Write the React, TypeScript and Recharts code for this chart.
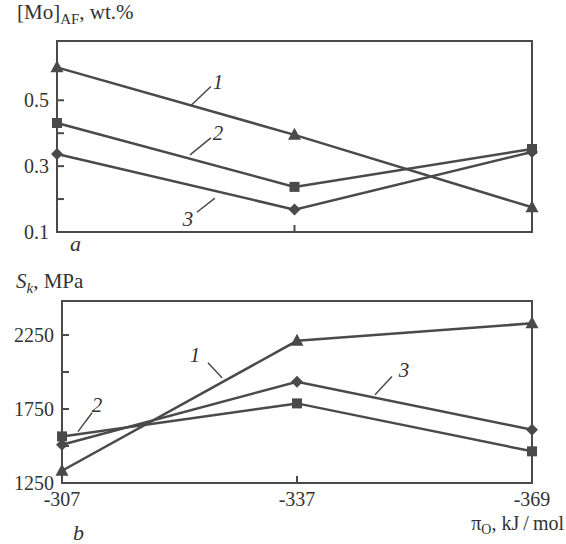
import { Line, LineChart, ReferenceArea, ReferenceDot, ReferenceLine, XAxis, YAxis } from 'recharts'

// oxygen potential, kJ/mol
const pressures = ['-307', '-337', '-369']

// (a) Mo in acicular ferrite, wt.%
const moCurve1 = [0.6, 0.395, 0.175]
const moCurve2 = [0.431, 0.237, 0.352]
const moCurve3 = [0.337, 0.168, 0.343]
const moTicks = [0.1, 0.2, 0.3, 0.4, 0.5]
const moLabels = [0.1, 0.3, 0.5]

// (b) S_k, MPa
const skCurve1 = [1333, 2211, 2329]
const skCurve2 = [1565, 1788, 1464]
const skCurve3 = [1509, 1934, 1610]
const skTicks = [1250, 1500, 1750, 2000, 2250]
const skLabels = [1250, 1750, 2250]

// curve numbers with leader lines, in data units
const moNotes = [
  { text: '1', at: [0.678, 0.557], from: [0.648, 0.542], to: [0.564, 0.484] },
  { text: '2', at: [0.678, 0.401], from: [0.648, 0.386], to: [0.56, 0.334] },
  { text: '3', at: [0.552, 0.142], from: [0.589, 0.16], to: [0.665, 0.203] },
]
const skNotes = [
  { text: '1', at: [0.566, 2119], from: [0.621, 2063], to: [0.681, 1962] },
  { text: '3', at: [1.455, 2016], from: [1.404, 1969], to: [1.332, 1847] },
  { text: '2', at: [0.149, 1779], from: [0.128, 1725], to: [0.068, 1597] },
]

const INK = '#4a4a4a'
const TEXT = '#333'
const FONT = '"Liberation Serif", "DejaVu Serif", serif'

const moData = pressures.map((p, i) => ({ x: i, s1: moCurve1[i], s2: moCurve2[i], s3: moCurve3[i] }))
const skData = pressures.map((p, i) => ({ x: i, s1: skCurve1[i], s2: skCurve2[i], s3: skCurve3[i] }))

const Triangle = (props: any) => {
  const { cx, cy } = props
  if (cx == null || cy == null) return null
  return <path d={`M${cx},${cy - 7} L${cx + 6.5},${cy + 5} L${cx - 6.5},${cy + 5} Z`} fill={INK} />
}
const Square = (props: any) => {
  const { cx, cy } = props
  if (cx == null || cy == null) return null
  return <rect x={cx - 5} y={cy - 5} width={10} height={10} fill={INK} />
}
const Diamond = (props: any) => {
  const { cx, cy } = props
  if (cx == null || cy == null) return null
  return <path d={`M${cx},${cy - 6} L${cx + 6},${cy} L${cx},${cy + 6} L${cx - 6},${cy} Z`} fill={INK} />
}

const YTick = (props: any) => {
  const { x, y, payload, labels } = props
  const axisX = x + 8
  return (
    <g>
      <line x1={axisX} x2={axisX + 7} y1={y} y2={y} stroke={INK} strokeWidth={2} />
      {labels.includes(payload.value) && (
        <text x={x} y={y} dy="0.35em" textAnchor="end" fontFamily={FONT} fontSize={20} fill={TEXT}>
          {String(payload.value)}
        </text>
      )}
    </g>
  )
}

const XTick = (props: any) => {
  const { x, payload, showLabels, axisY } = props
  return (
    <g>
      <line x1={x} x2={x} y1={axisY} y2={axisY - 7} stroke={INK} strokeWidth={2} />
      {showLabels && (
        <text x={x} y={axisY + 23} textAnchor="middle" fontFamily={FONT} fontSize={20} fill={TEXT}>
          {pressures[payload.value]}
        </text>
      )}
    </g>
  )
}

const noteShape = (text: string) => (p: any) => (
  <text x={p.cx} y={p.cy} dy="0.35em" textAnchor="middle" fontFamily={FONT} fontStyle="italic" fontSize={21} fill={TEXT}>
    {text}
  </text>
)

const Panel = ({ data, ticks, labels, domain, notes, height, axisWidth, showLabels }: any) => {
  const axisY = height - 30
  return (
    <LineChart width={566} height={height} data={data} margin={{ top: 41, right: 34, left: 0, bottom: 0 }}>
      <XAxis
        dataKey="x"
        type="number"
        domain={[0, 2]}
        ticks={[0, 1, 2]}
        height={30}
        tickSize={0}
        tickMargin={4}
        tickLine={{ stroke: 'none' }}
        axisLine={{ stroke: INK, strokeWidth: 2 }}
        tick={(p: any) => <XTick {...p} showLabels={showLabels} axisY={axisY} />}
      />
      <YAxis
        type="number"
        domain={domain}
        ticks={ticks}
        width={axisWidth}
        tickSize={0}
        tickMargin={8}
        tickLine={{ stroke: 'none' }}
        axisLine={{ stroke: INK, strokeWidth: 2 }}
        tick={(p: any) => <YTick {...p} labels={labels} />}
      />
      <ReferenceArea x1={0} x2={2} y1={domain[0]} y2={domain[1]} fill="none" stroke={INK} strokeWidth={2} />
      {notes.map((n: any) => (
        <ReferenceLine
          key={'l' + n.text}
          segment={[
            { x: n.from[0], y: n.from[1] },
            { x: n.to[0], y: n.to[1] },
          ]}
          stroke={INK}
          strokeWidth={1.5}
        />
      ))}
      {notes.map((n: any) => (
        <ReferenceDot key={'t' + n.text} x={n.at[0]} y={n.at[1]} shape={noteShape(n.text)} />
      ))}
      <Line dataKey="s1" type="linear" stroke={INK} strokeWidth={2.5} dot={<Triangle />} activeDot={false} isAnimationActive={false} />
      <Line dataKey="s2" type="linear" stroke={INK} strokeWidth={2.5} dot={<Square />} activeDot={false} isAnimationActive={false} />
      <Line dataKey="s3" type="linear" stroke={INK} strokeWidth={2.5} dot={<Diamond />} activeDot={false} isAnimationActive={false} />
    </LineChart>
  )
}

export default function App() {
  return (
    <div style={{ position: 'absolute', left: 0, top: 0, width: 566, height: 544, background: '#fff' }}>
      <div style={{ position: 'absolute', left: 0, top: 0 }}>
        <Panel
          data={moData}
          ticks={moTicks}
          labels={moLabels}
          domain={[0.1, 0.68]}
          notes={moNotes}
          height={262}
          axisWidth={57}
          showLabels={false}
        />
      </div>
      <div style={{ position: 'absolute', left: 0, top: 260 }}>
        <Panel
          data={skData}
          ticks={skTicks}
          labels={skLabels}
          domain={[1250, 2480]}
          notes={skNotes}
          height={253}
          axisWidth={62}
          showLabels={true}
        />
      </div>
      <svg width={566} height={544} style={{ position: 'absolute', left: 0, top: 0, pointerEvents: 'none' }}>
        <g fontFamily={FONT} fill={TEXT}>
          <text x={17} y={19} fontSize={21}>
            [Mo]
            <tspan fontSize={15} dy={5}>AF</tspan>
            <tspan dy={-5}>, wt.%</tspan>
          </text>
          <text x={70} y={251} fontSize={22} fontStyle="italic">a</text>
          <text x={16} y={288} fontSize={21}>
            <tspan fontStyle="italic">S</tspan>
            <tspan fontSize={15} fontStyle="italic" dy={5}>k</tspan>
            <tspan dy={-5}>, MPa</tspan>
          </text>
          <text x={73} y={540} fontSize={22} fontStyle="italic">b</text>
          <text x={564} y={530} fontSize={20} textAnchor="end">
            π
            <tspan fontSize={14} dy={4}>O</tspan>
            <tspan dy={-4}>, kJ{'\u2009'}/{'\u2009'}mol</tspan>
          </text>
        </g>
      </svg>
    </div>
  )
}
